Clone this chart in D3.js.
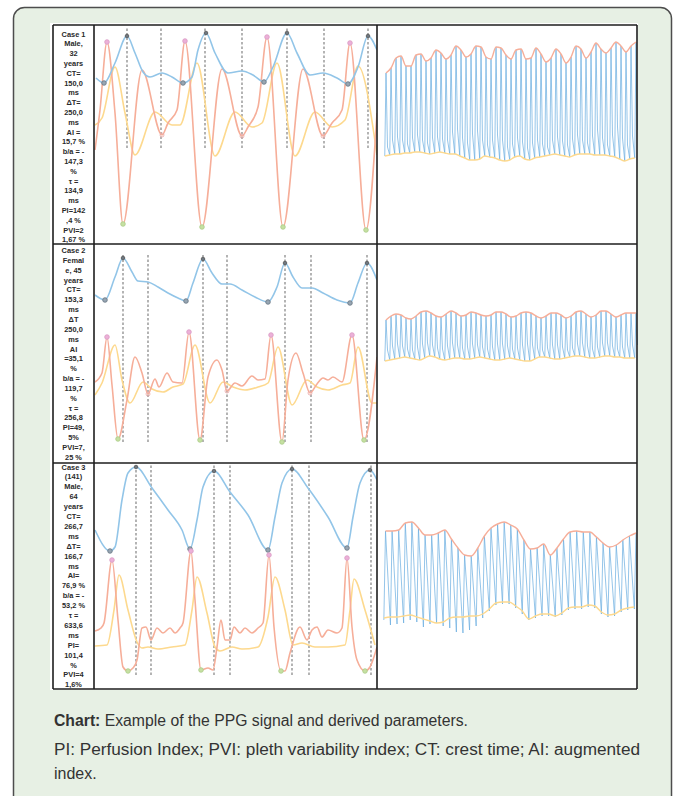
<!DOCTYPE html>
<html>
<head>
<meta charset="utf-8">
<script src="https://cdn.jsdelivr.net/npm/d3@7"></script>
<style>
  body { margin: 0; background: #fff; }
  svg { display: block; font-family: "Liberation Sans", Arial, sans-serif; }
</style>
</head>
<body>
<svg id="chart" width="677" height="796"></svg>
<script>
// ---- parameter text per case (left column) ----
const case1Text = ["Case 1","Male,","32","years","CT=","150,0","ms","ΔT=","250,0","ms","AI =","15,7 %","b/a = -","147,3","%","τ =","134,9","ms","PI=142",",4 %","PVI=2","1,67 %"];
const case2Text = ["Case 2","Femal","e, 45","years","CT=","153,3","ms","ΔT","250,0","ms","AI","=35,1","%","b/a = -","119,7","%","τ =","256,8","PI=49,","5%","PVI=7,","25 %"];
const case3Text = ["Case 3","(141)","Male,","64","years","CT=","266,7","ms","ΔT=","166,7","ms","AI=","76,9 %","b/a = -","53,2 %","τ =","633,6","ms","PI=","101,4","%","PVI=4","1,6%"];

// ---- case 1, single beats (sample, amplitude) ----
const c1BlueT = [2,10,21,33,41,49,56,68,78,89,98,104,112,121,134,148,159,170,179,193,203,216,229,243,254,264,274,283];
const c1BlueV = [166,161,181,208,191,172,167,171,167,161,167,194,211,191,171,173,169,162,177,211,191,169,171,166,160,177,208,194];
const c1SalT = [1,6,13,21,29,48,68,74,83,91,108,128,148,154,164,173,189,209,229,238,248,256,272,283];
const c1SalV = [94,134,202,131,20,174,109,121,134,203,17,175,108,117,137,207,17,175,108,121,134,201,14,131];
const c1YelT = [1,8,21,31,41,61,78,86,103,121,141,158,168,183,201,221,238,251,264,283];
const c1YelV = [119,126,177,131,89,132,119,119,181,88,132,117,121,181,88,132,117,124,178,89];
const c1PeakT = [33,112,193,274], c1PeakV = [208,211,211,208];
const c1FootT = [10,89,170,254], c1FootV = [161,161,162,160];
const c1PinkT = [13,91,173,256], c1PinkV = [202,203,207,201];
const c1GreenT = [29,108,189,272], c1GreenV = [20,17,17,14];
const c1NotchT = [68,148,229], c1NotchV = [109,108,108];
const c1DashT = [33,67,111,148,193,230,274], c1DashV = [96,217];

// ---- case 2 ----
const c2BlueT = [1,11,21,29,38,44,54,64,74,84,92,99,109,118,128,136,148,161,174,183,191,199,208,218,229,243,256,264,273,283];
const c2BlueV = [168,163,186,205,191,182,181,176,170,165,162,180,204,190,179,179,173,166,161,176,200,186,175,175,170,163,160,180,200,183];
const c2SalT = [1,8,13,18,24,33,41,48,54,61,65,73,79,88,95,106,114,123,128,133,141,148,158,164,171,177,188,194,202,209,216,223,229,234,239,248,258,270,283];
const c2SalV = [81,90,126,78,24,63,106,90,69,84,76,90,81,80,131,23,86,103,93,72,80,77,87,83,84,128,21,83,110,90,70,79,85,83,86,81,128,23,106];
const c2YelT = [1,8,21,28,36,49,58,69,79,89,101,116,129,139,151,164,174,184,198,213,223,234,248,256,264,278,283];
const c2YelV = [68,80,118,83,60,81,74,71,76,79,118,60,81,76,73,76,80,116,58,83,76,73,78,80,116,60,60];
const c2PeakT = [29,109,191,273], c2PeakV = [205,204,200,200];
const c2FootT = [11,92,174,256], c2FootV = [163,162,161,160];
const c2PinkT = [13,95,177,258], c2PinkV = [126,131,128,128];
const c2GreenT = [24,106,188,270], c2GreenV = [24,23,21,23];
const c2NotchT = [54,133,216], c2NotchV = [69,72,70];
const c2DashT = [29,54,109,133,191,217,273], c2DashV = [21,210];

// ---- case 3 ----
const c3BlueT = [1,16,21,28,34,42,58,74,88,96,103,109,120,136,154,174,181,188,198,214,234,253,259,266,276,283];
const c3BlueV = [159,138,142,189,216,222,201,179,159,140,169,202,218,197,174,139,172,206,220,201,172,141,172,206,219,209];
const c3SalT = [1,7,10,18,24,29,34,39,43,48,52,57,63,69,76,81,86,89,97,101,107,114,119,123,127,131,136,140,146,151,158,164,169,175,180,187,191,196,206,213,218,223,228,234,243,248,253,258,263,271,276,283];
const c3SalV = [58,61,66,129,69,22,18,21,29,61,62,49,61,56,61,56,61,66,138,89,19,21,19,42,69,49,49,62,56,61,56,61,66,134,62,18,18,36,62,49,59,62,52,59,56,61,131,62,29,18,22,42];
const c3YelT = [1,13,20,25,34,43,48,54,64,78,91,98,103,113,121,126,138,148,164,174,181,191,199,208,221,234,251,256,260,271,281];
const c3YelV = [43,44,79,114,79,47,41,42,40,42,44,79,112,76,42,38,42,40,42,72,112,79,44,46,42,42,44,79,110,79,44];
const c3PeakT = [42,120,198,276], c3PeakV = [222,218,220,219];
const c3FootT = [16,96,174,253], c3FootV = [138,140,139,141];
const c3PinkT = [18,97,175,253], c3PinkV = [129,138,134,131];
const c3GreenT = [34,107,187,271], c3GreenV = [18,19,18,18];
const c3DashT = [42,57,120,136,198,215,277], c3DashV = [14,224];

// ---- long recordings, per beat: peak, foot, notch ----
const r1Peak = [171,176,186,188,178,178,189,190,183,186,194,191,185,189,198,194,187,190,198,197,187,185,197,196,189,185,194,195,185,186,196,190,182,186,195,190,181,187,198,195,186,192,201,195,191,196,202,198,192,198,202];
const r1Trough = [88,89,90,90,91,91,92,92,91,90,91,92,91,90,90,88,86,84,84,85,88,87,86,84,83,84,87,88,85,84,86,87,88,89,90,89,88,87,89,90,90,90,89,89,89,88,87,85,83,85,86];
const r1Notch = [97,104,107,104,100,106,109,104,101,106,107,105,104,112,115,106,101,110,113,104,99,104,109,104,97,100,106,102,96,101,104,100,97,104,107,103,99,105,109,104,101,108,114,106,99,109,117,106,99,108,114];

const r2Peak = [143,147,149,148,145,144,147,151,152,150,147,146,149,152,150,147,148,151,150,148,147,148,151,151,149,146,147,150,151,150,147,145,147,150,150,148,145,147,151,152,149,146,148,152,152,149,146,148,150,150,150];
const r2Trough = [102,103,104,105,106,105,104,103,105,107,106,104,103,104,105,105,104,104,105,106,105,104,103,103,104,105,104,103,102,102,104,106,106,105,104,104,105,106,107,107,106,105,105,106,107,107,106,106,105,105,105];
const r2Notch = [113,117,119,117,114,113,116,119,120,118,115,114,117,120,118,115,116,119,118,116,114,116,119,119,117,114,115,118,119,118,115,113,115,118,118,116,113,115,119,120,117,114,116,120,120,117,114,116,118,118,118];

const r3Peak = [158,158,159,166,167,161,154,154,156,159,150,141,134,133,141,153,161,165,167,164,160,149,140,141,145,134,141,150,157,158,157,157,152,146,142,144,149,153,156];
const r3Trough = [69,64,65,66,69,67,62,65,66,63,61,57,56,59,63,71,78,84,85,85,81,75,69,71,73,73,72,74,79,80,80,82,81,75,72,73,77,79,80];
const r3Lower = [71,72,72,73,74,72,70,68,66,67,71,72,72,73,73,75,80,86,87,87,83,78,70,73,75,75,73,76,81,82,82,84,83,77,74,75,79,81,82];

const captionBold = "Chart:";
const captionLine1 = " Example of the PPG signal and derived parameters.";
const captionLine2 = "PI: Perfusion Index; PVI: pleth variability index; CT: crest time; AI: augmented";
const captionLine3 = "index.";

// colours
const BLUE = "#92c5e8", SALMON = "#f6ae99", YELLOW = "#fdd98e";

const svg = d3.select("#chart");

// outer green panel
svg.append("rect")
  .attr("x", 13.5).attr("y", 7.5).attr("width", 658).attr("height", 820).attr("rx", 11)
  .attr("fill", "#e7f0e4").attr("stroke", "#4d4d4d").attr("stroke-width", 1.5);
svg.append("rect").attr("x", 50).attr("y", 23).attr("width", 588).attr("height", 667).attr("fill", "#fff");

const colX = [53, 94, 377, 637];
const rowY = [25, 244, 463, 689];

const rows = [
  { text: case1Text, ty0: 34, lh: 9.8,
    blue: [c1BlueT, c1BlueV], sal: [c1SalT, c1SalV], yel: [c1YelT, c1YelV],
    peak: [c1PeakT, c1PeakV], foot: [c1FootT, c1FootV], pink: [c1PinkT, c1PinkV],
    green: [c1GreenT, c1GreenV], notch: [c1NotchT, c1NotchV], dash: [c1DashT, c1DashV],
    rPeak: r1Peak, rTrough: r1Trough, rNotch: r1Notch, rLower: r1Trough, rx0: 386 },
  { text: case2Text, ty0: 250.5, lh: 9.85,
    blue: [c2BlueT, c2BlueV], sal: [c2SalT, c2SalV], yel: [c2YelT, c2YelV],
    peak: [c2PeakT, c2PeakV], foot: [c2FootT, c2FootV], pink: [c2PinkT, c2PinkV],
    green: [c2GreenT, c2GreenV], notch: [c2NotchT, c2NotchV], dash: [c2DashT, c2DashV],
    rPeak: r2Peak, rTrough: r2Trough, rNotch: r2Notch, rLower: r2Trough, rx0: 386 },
  { text: case3Text, ty0: 467, lh: 9.9,
    blue: [c3BlueT, c3BlueV], sal: [c3SalT, c3SalV], yel: [c3YelT, c3YelV],
    peak: [c3PeakT, c3PeakV], foot: [c3FootT, c3FootV], pink: [c3PinkT, c3PinkV],
    green: [c3GreenT, c3GreenV], notch: null, dash: [c3DashT, c3DashV],
    rPeak: r3Peak, rTrough: r3Trough, rNotch: null, rLower: r3Lower, rx0: 385.5 }
];

const defs = svg.append("defs");

rows.forEach(function(r, k) {
  const top = rowY[k], bottom = rowY[k + 1];

  // parameter text
  const tg = svg.append("g").attr("font-size", 7.4).attr("font-weight", "bold").attr("fill", "#2a2a2a")
    .attr("text-anchor", "middle");
  tg.selectAll("text").data(r.text).enter().append("text")
    .attr("x", (colX[0] + colX[1]) / 2)
    .attr("y", (d, i) => r.ty0 + i * r.lh)
    .attr("dominant-baseline", "central")
    .text(d => d);

  // single-beat panel
  defs.append("clipPath").attr("id", "cl" + k).append("rect")
    .attr("x", colX[1]).attr("y", top).attr("width", colX[2] - colX[1]).attr("height", bottom - top);
  const g = svg.append("g").attr("clip-path", "url(#cl" + k + ")");
  const x = d3.scaleLinear().domain([0, 283]).range([colX[1], colX[2]]);
  const y = d3.scaleLinear().domain([0, bottom - top]).range([bottom, top]);

  g.selectAll(".dash").data(r.dash[0]).enter().append("line")
    .attr("x1", d => x(d)).attr("x2", d => x(d))
    .attr("y1", y(r.dash[1][0])).attr("y2", y(r.dash[1][1]))
    .attr("stroke", "#8c8c8c").attr("stroke-width", 1.3).attr("stroke-dasharray", "2.5,2");

  const line = d3.line().x(d => x(d[0])).y(d => y(d[1])).curve(d3.curveMonotoneX);
  [[r.yel, YELLOW], [r.sal, SALMON], [r.blue, BLUE]].forEach(function(s) {
    g.append("path").datum(d3.zip(s[0][0], s[0][1])).attr("d", line)
      .attr("fill", "none").attr("stroke", s[1]).attr("stroke-width", 1.6);
  });

  function dots(pair, rad, fill, stroke) {
    g.append("g").selectAll("circle").data(d3.zip(pair[0], pair[1])).enter().append("circle")
      .attr("cx", d => x(d[0])).attr("cy", d => y(d[1])).attr("r", rad)
      .attr("fill", fill).attr("stroke", stroke).attr("stroke-width", 0.8);
  }
  if (r.notch) dots(r.notch, 2, "none", "#e8a4a4");
  dots(r.foot, 2.3, "#97a6b3", "#667380");
  dots(r.peak, 1.8, "#6d7780", "#555");
  dots(r.pink, 2.3, "#ecb0d8", "#d99bc4");
  dots(r.green, 2.3, "#c6e0a2", "#a9cc86");

  // long recording panel
  const xb = d3.scaleLinear().domain([0, r.rPeak.length - 1]).range([r.rx0, 636]);
  const zig = [];
  r.rPeak.forEach(function(p, i) {
    zig.push([i - 0.25, r.rTrough[i]]);
    zig.push([i, p]);
    if (r.rNotch) zig.push([i + 0.3, r.rNotch[i]]);
  });
  const lineB = d3.line().x(d => xb(d[0])).y(d => y(d[1]));
  const lineE = d3.line().x(d => xb(d[0])).y(d => y(d[1])).curve(d3.curveMonotoneX);
  svg.append("path").datum(zig).attr("d", lineB)
    .attr("fill", "none").attr("stroke", "#68ade0").attr("stroke-opacity", 0.7).attr("stroke-width", 1);
  svg.append("path").datum(r.rPeak.map((p, i) => [i, p])).attr("d", lineE)
    .attr("fill", "none").attr("stroke", SALMON).attr("stroke-width", 1.4);
  svg.append("path").datum(r.rLower.map((p, i) => [i - 0.25, p])).attr("d", lineE)
    .attr("fill", "none").attr("stroke", YELLOW).attr("stroke-width", 1.4);
});

// table grid
const grid = svg.append("g").attr("stroke", "#1e1e1e").attr("stroke-width", 1.6);
rowY.forEach(v => grid.append("line").attr("x1", colX[0]).attr("x2", colX[3]).attr("y1", v).attr("y2", v));
colX.forEach(v => grid.append("line").attr("x1", v).attr("x2", v).attr("y1", rowY[0]).attr("y2", rowY[3]));

// caption
const cap = svg.append("g").attr("font-size", 16).attr("fill", "#333");
const t1 = cap.append("text").attr("x", 54).attr("y", 726)
  .attr("textLength", 414).attr("lengthAdjust", "spacingAndGlyphs");
t1.append("tspan").attr("font-weight", "bold").text(captionBold);
t1.append("tspan").text(captionLine1);
cap.append("text").attr("x", 54).attr("y", 755).text(captionLine2)
  .attr("textLength", 586).attr("lengthAdjust", "spacingAndGlyphs");
cap.append("text").attr("x", 54).attr("y", 779).text(captionLine3);
</script>
</body>
</html>
